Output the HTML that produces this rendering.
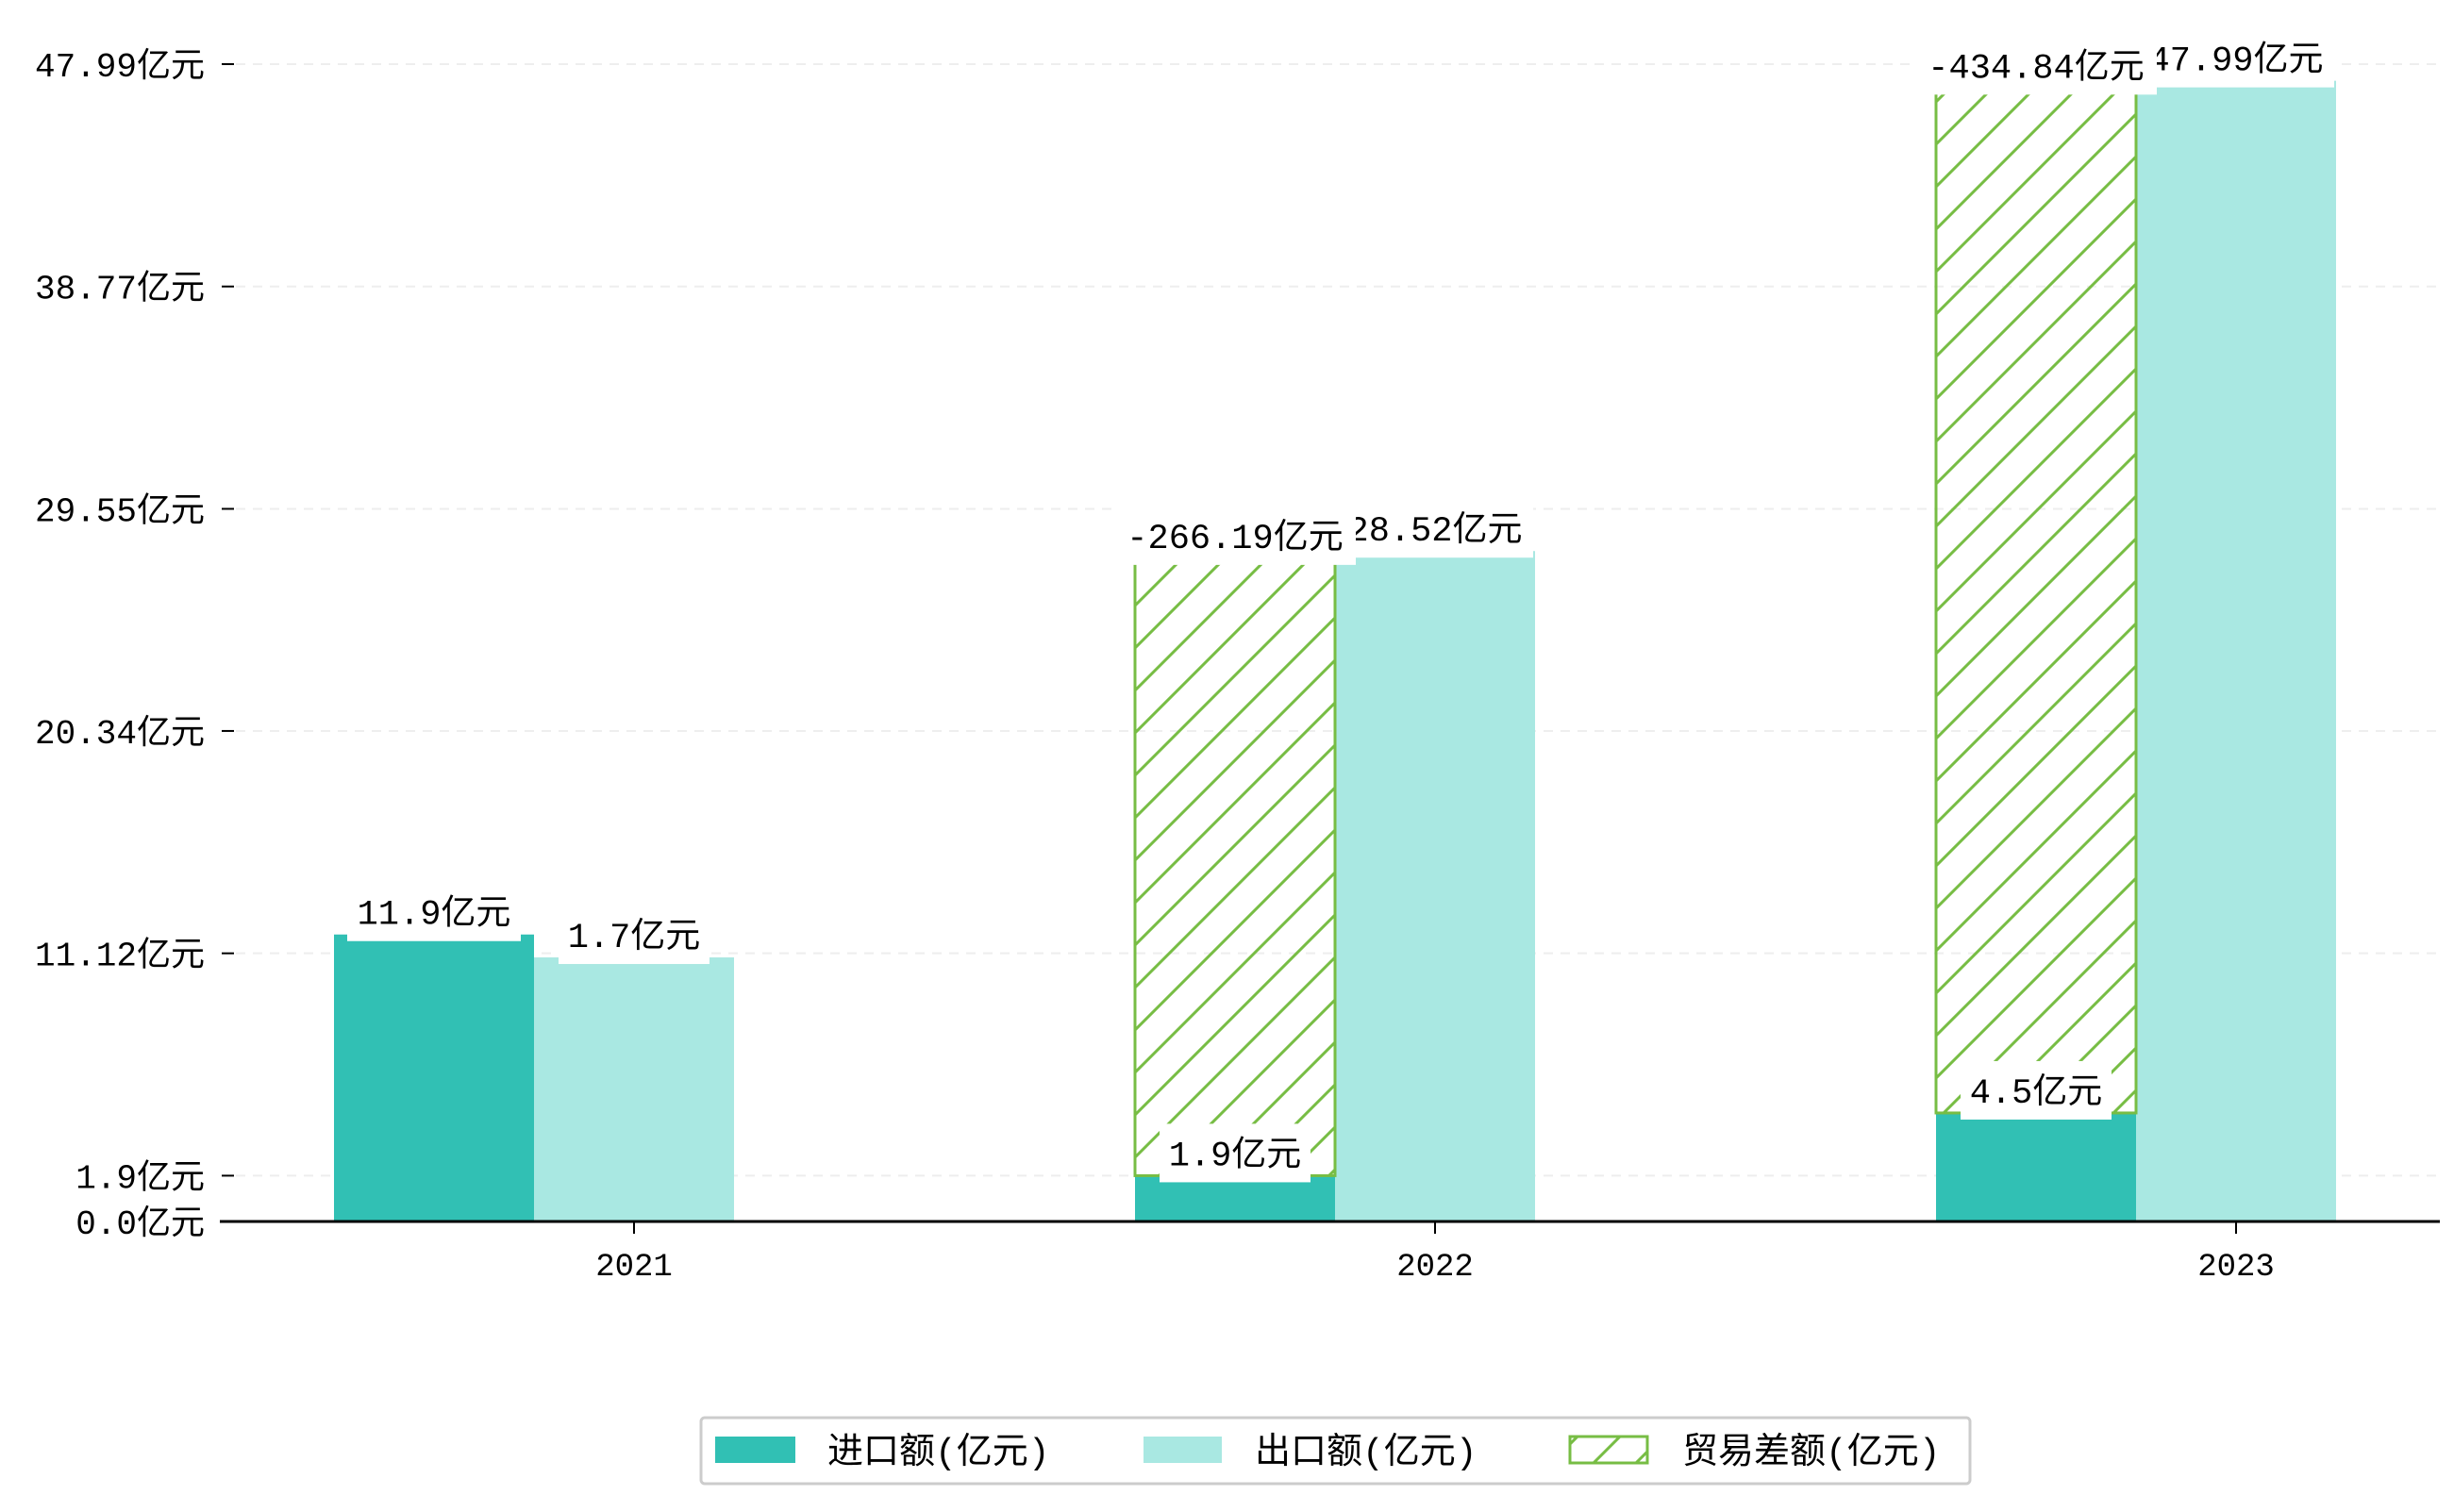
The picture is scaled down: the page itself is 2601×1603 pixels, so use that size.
<!DOCTYPE html>
<html><head><meta charset="utf-8">
<style>
html,body{margin:0;padding:0;background:#fff;}
svg text{font-family:"Liberation Mono","Noto Sans CJK SC",monospace;fill:#000;}
</style></head>
<body>
<svg id="chart" width="2601" height="1598" viewBox="0 0 2601 1598" xmlns="http://www.w3.org/2000/svg">
<defs>
<pattern id="hatch" patternUnits="userSpaceOnUse" width="45" height="45">
<line x1="-5" y1="50" x2="50" y2="-5" stroke="#77bd44" stroke-width="3"/>
<line x1="-50" y1="50" x2="5" y2="-5" stroke="#77bd44" stroke-width="3"/>
<line x1="40" y1="50" x2="95" y2="-5" stroke="#77bd44" stroke-width="3"/>
</pattern>
</defs>
<g id="grid"></g>
<g id="bars"></g>
<g id="labels"></g>
<g id="axes"></g>
<g id="legend" font-size="38">
<rect x="743" y="1503" width="1345" height="70" rx="4" fill="#fff" stroke="#ccc" stroke-width="3"/>
<g>
<rect x="758" y="1523" width="85" height="28" fill="#31c0b4"/>
<text x="877" y="1551">进口额(亿元)</text></g>
<g>
<rect x="1212" y="1523" width="83" height="28" fill="#a9e8e2"/>
<text x="1330" y="1551">出口额(亿元)</text></g>
<g>
<rect x="1664" y="1523" width="82" height="28" fill="url(#hatch)" stroke="#77bd44" stroke-width="3"/>
<text x="1783" y="1551">贸易差额(亿元)</text></g>
</g>
</svg>
<script>
const categories = ["2021","2022","2023"];
const importValues = [11.9, 1.9, 4.5];
const exportValues = [10.95, 27.8, 47.3];
const balanceTops = [null, 27.5, 47.0];
const importLabels = ["11.9亿元","1.9亿元","4.5亿元"];
const exportLabels = ["1.7亿元","28.52亿元","47.99亿元"];
const balanceLabels = [null,"-266.19亿元","-434.84亿元"];
const tickValues = [0, 1.9, 11.12, 20.34, 29.55, 38.77, 47.99];
const tickLabels = ["0.0亿元","1.9亿元","11.12亿元","20.34亿元","29.55亿元","38.77亿元","47.99亿元"];

const NS = "http://www.w3.org/2000/svg";
const X0 = 233, X1 = 2586, Y0 = 1295, YTOP = 68, YMAX = 47.99;
const BW = 212;
function y(v){ return Y0 - v*(Y0-YTOP)/YMAX; }
function xc(i){ return 672 + i*849; }
function mk(tag, attrs, parent){ const e=document.createElementNS(NS,tag); for(const k in attrs) e.setAttribute(k,attrs[k]); parent.appendChild(e); return e; }

const grid=document.getElementById('grid'), bars=document.getElementById('bars'), labels=document.getElementById('labels'), axes=document.getElementById('axes');

tickValues.forEach((v,i)=>{
  if(v>0){
    const g = mk('line',{x1:250,x2:X1,y1:y(v),y2:y(v),stroke:'#eeeeee','stroke-width':2,'stroke-dasharray':'10,8'},grid);
    
    
  }
  const t = mk('line',{x1:235,x2:248,y1:y(v),y2:y(v),stroke:'#000','stroke-width':2},axes);
  
  
  const tx = mk('text',{x:217,y:y(v)+13,'text-anchor':'end','font-size':36},axes);
  tx.textContent = tickLabels[i];
  
  
});
const ax = mk('line',{x1:X0,x2:X1,y1:Y0,y2:Y0,stroke:'#000','stroke-width':3},axes);



function label(txt, cx, top, name){
  const cy = top - 24;
  const w = txt.length*24 + 40;
  const r = mk('rect',{x:cx-w/2,y:cy-31,width:w,height:62,fill:'#fff'},labels);
  
  
  const t = mk('text',{x:cx,y:cy+13,'text-anchor':'middle','font-size':37},labels);
  t.textContent = txt;
  
  
}

categories.forEach((c,i)=>{
  const cx = xc(i);
  const ix = cx - 1.5*BW, ex = cx - 0.5*BW;
  const ib = mk('rect',{x:ix,y:y(importValues[i]),width:BW,height:Y0-y(importValues[i]),fill:'#31c0b4'},bars);
  
  
  const eb = mk('rect',{x:ex,y:y(exportValues[i]),width:BW,height:Y0-y(exportValues[i]),fill:'#a9e8e2'},bars);
  
  
  if(balanceTops[i]!==null){
    const hb = mk('rect',{x:ix,y:y(balanceTops[i]),width:BW,height:y(importValues[i])-y(balanceTops[i]),fill:'url(#hatch)',stroke:'#77bd44','stroke-width':3},bars);
    
    
  }
  const tk = mk('line',{x1:cx,x2:cx,y1:Y0,y2:Y0+13,stroke:'#000','stroke-width':2},axes);
  
  
  const xl = mk('text',{x:cx,y:1352,'text-anchor':'middle','font-size':34},axes);
  xl.textContent = c;
  
  
});
categories.forEach((c,i)=>{
  const cx = xc(i);
  label(importLabels[i], cx-BW, y(importValues[i]), 'import-value-label');
  label(exportLabels[i], cx, y(exportValues[i]), 'export-value-label');
  if(balanceTops[i]!==null) label(balanceLabels[i], cx-BW, y(balanceTops[i]), 'balance-value-label');
});
</script>
</body></html>
